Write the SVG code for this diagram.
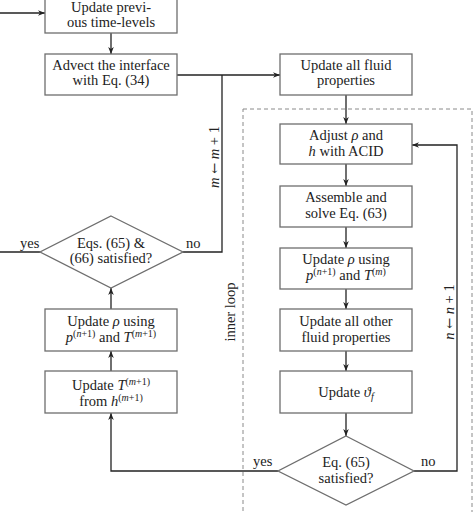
<svg xmlns="http://www.w3.org/2000/svg" width="474" height="512" viewBox="0 0 474 512">
<style>
.box{fill:#fff;stroke:#6e6e6e;stroke-width:1.3}
.t{font-family:"Liberation Serif","DejaVu Serif",serif;font-size:14.5px;fill:#222;text-anchor:middle}
.l{font-family:"Liberation Serif","DejaVu Serif",serif;font-size:14.5px;fill:#222}
.i{font-style:italic}
.sup{font-size:10px}
.ar{font-family:"DejaVu Serif",serif;font-size:13px}
.c{fill:none;stroke:#222;stroke-width:1.3}
.dash{fill:none;stroke:#8a8a8a;stroke-width:1;stroke-dasharray:4,3}
</style>
<defs>
<marker id="ah" viewBox="0 0 10 10" refX="10" refY="5" markerWidth="7" markerHeight="7" markerUnits="userSpaceOnUse" orient="auto">
<path d="M0,1 L10,5 L0,9 L3,5 Z" fill="#222"/>
</marker>
</defs>
<rect class="dash" x="243" y="109" width="229" height="420"/>
<g id="connectors">
<line class="c" x1="0" y1="13" x2="45" y2="13" marker-end="url(#ah)"/>
<line class="c" x1="111" y1="33" x2="111" y2="54" marker-end="url(#ah)"/>
<line class="c" x1="177" y1="75" x2="280" y2="75" marker-end="url(#ah)"/>
<polyline class="c" points="183,252 222,252 222,75"/>
<line class="c" x1="0" y1="252" x2="40" y2="252"/>
<line class="c" x1="111" y1="309" x2="111" y2="288" marker-end="url(#ah)"/>
<line class="c" x1="111" y1="371" x2="111" y2="351" marker-end="url(#ah)"/>
<polyline class="c" points="278,471 111,471 111,413" marker-end="url(#ah)"/>
<line class="c" x1="346" y1="95" x2="346" y2="124" marker-end="url(#ah)"/>
<line class="c" x1="346" y1="164" x2="346" y2="186" marker-end="url(#ah)"/>
<line class="c" x1="346" y1="227" x2="346" y2="248" marker-end="url(#ah)"/>
<line class="c" x1="346" y1="289" x2="346" y2="309" marker-end="url(#ah)"/>
<line class="c" x1="346" y1="351" x2="346" y2="371" marker-end="url(#ah)"/>
<line class="c" x1="346" y1="413" x2="346" y2="436" marker-end="url(#ah)"/>
<polyline class="c" points="414,471 457,471 457,145 412,145" marker-end="url(#ah)"/>
<text class="l" x="20" y="248">yes</text>
<text class="l" x="186" y="248">no</text>
<text class="l" x="253" y="466">yes</text>
<text class="l" x="421" y="466">no</text>
<text class="t" transform="translate(219,157) rotate(-90)"><tspan class="i">m</tspan> <tspan class="ar">←</tspan> <tspan class="i">m</tspan> + 1</text>
<text class="t" transform="translate(454,312) rotate(-90)"><tspan class="i">n</tspan> <tspan class="ar">←</tspan> <tspan class="i">n</tspan> + 1</text>
<text class="t" transform="translate(235,312) rotate(-90)">inner loop</text>
</g>
<g id="prev">
<rect class="box" x="45" y="-8" width="132" height="41"/>
<text class="t" x="111" y="12">Update previ-</text>
<text class="t" x="111" y="27">ous time-levels</text>
</g>
<g id="advect">
<rect class="box" x="45" y="54" width="132" height="41"/>
<text class="t" x="111" y="70">Advect the interface</text>
<text class="t" x="111" y="85">with Eq. (34)</text>
</g>
<g id="outer-check">
<polygon class="box" points="111,216 183,252 111,288 40,252"/>
<text class="t" x="111" y="248">Eqs. (65) &amp;</text>
<text class="t" x="111" y="263">(66) satisfied?</text>
</g>
<g id="update-rho-outer">
<rect class="box" x="45" y="309" width="132" height="42"/>
<text class="t" x="111" y="326">Update <tspan class="i">ρ</tspan> using</text>
<text class="t" x="111" y="342"><tspan class="i">p</tspan><tspan class="sup" dy="-5">(<tspan class="i">n</tspan>+1)</tspan><tspan dy="5"> and </tspan><tspan class="i">T</tspan><tspan class="sup" dy="-5">(<tspan class="i">m</tspan>+1)</tspan></text>
</g>
<g id="update-T">
<rect class="box" x="45" y="371" width="132" height="42"/>
<text class="t" x="111" y="390">Update <tspan class="i">T</tspan><tspan class="sup" dy="-5">(<tspan class="i">m</tspan>+1)</tspan></text>
<text class="t" x="111" y="406">from <tspan class="i">h</tspan><tspan class="sup" dy="-5">(<tspan class="i">m</tspan>+1)</tspan></text>
</g>
<g id="update-all">
<rect class="box" x="280" y="54" width="132" height="41"/>
<text class="t" x="346" y="70">Update all fluid</text>
<text class="t" x="346" y="85">properties</text>
</g>
<g id="adjust">
<rect class="box" x="280" y="124" width="132" height="40"/>
<text class="t" x="346" y="140">Adjust <tspan class="i">ρ</tspan> and</text>
<text class="t" x="346" y="156"><tspan class="i">h</tspan> with ACID</text>
</g>
<g id="assemble">
<rect class="box" x="280" y="186" width="132" height="41"/>
<text class="t" x="346" y="202">Assemble and</text>
<text class="t" x="346" y="218">solve Eq. (63)</text>
</g>
<g id="update-rho-inner">
<rect class="box" x="280" y="248" width="132" height="41"/>
<text class="t" x="346" y="264">Update <tspan class="i">ρ</tspan> using</text>
<text class="t" x="346" y="280"><tspan class="i">p</tspan><tspan class="sup" dy="-5">(<tspan class="i">n</tspan>+1)</tspan><tspan dy="5"> and </tspan><tspan class="i">T</tspan><tspan class="sup" dy="-5">(<tspan class="i">m</tspan>)</tspan></text>
</g>
<g id="update-other">
<rect class="box" x="280" y="309" width="132" height="42"/>
<text class="t" x="346" y="326">Update all other</text>
<text class="t" x="346" y="342">fluid properties</text>
</g>
<g id="update-theta">
<rect class="box" x="280" y="371" width="132" height="42"/>
<text class="t" x="346" y="397">Update <tspan class="i">ϑ</tspan><tspan class="i" font-size="10" dy="3">f</tspan></text>
</g>
<g id="inner-check">
<polygon class="box" points="346,436 414,471 346,505 278,471"/>
<text class="t" x="346" y="467">Eq. (65)</text>
<text class="t" x="346" y="483">satisfied?</text>
</g>
</svg>
